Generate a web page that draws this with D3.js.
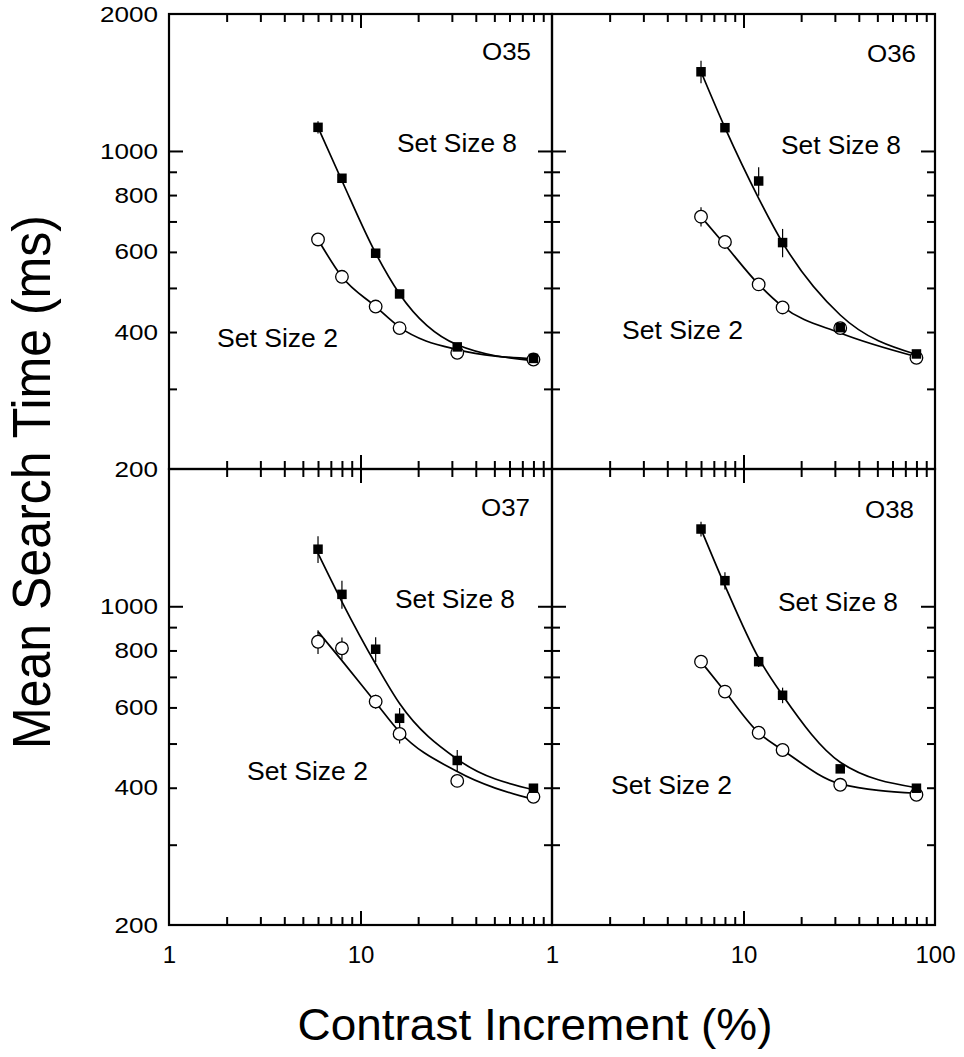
<!DOCTYPE html>
<html>
<head>
<meta charset="utf-8">
<script src="https://cdn.jsdelivr.net/npm/d3@7"></script>
<style>
  body { margin: 0; background: #fff; }
  svg { display: block; font-family: "Liberation Sans", Arial, Helvetica, sans-serif; }
</style>
</head>
<body>
<svg id="chart" width="964" height="1057"></svg>
<script>
// contrast increments (%) used in every panel
const contrast = [6, 8, 12, 16, 32, 80];
const observers = ["O35", "O36", "O37", "O38"];

// mean search time (ms), set size 8 / set size 2
const o35Size8 = [1127, 871, 596, 485, 371, 350];
const o35Size2 = [639, 529, 455, 408, 360, 348];
const o36Size8 = [1493, 1125, 859, 629, 409, 358];
const o36Size2 = [717, 631, 509, 453, 408, 351];
const o37Size8 = [1334, 1062, 805, 568, 459, 399];
const o37Size2 = [836, 809, 618, 525, 414, 382];
const o38Size8 = [1477, 1138, 756, 638, 440, 399];
const o38Size2 = [756, 650, 528, 484, 406, 386];

// half-length of error bars (ms)
const o35Err8 = [35, 15, 12, 8, 6, 5];
const o35Err2 = [20, 10, 8, 6, 5, 4];
const o36Err8 = [85, 20, 62, 45, 10, 6];
const o36Err2 = [35, 15, 15, 8, 8, 5];
const o37Err8 = [90, 75, 50, 30, 25, 6];
const o37Err2 = [50, 45, 22, 25, 6, 5];
const o38Err8 = [55, 50, 20, 25, 6, 6];
const o38Err2 = [10, 8, 8, 6, 5, 5];

// fitted curves at the same contrasts
const o35Fit8 = [1127, 860, 596, 485, 375, 346];
const o35Fit2 = [639, 529, 455, 410, 366, 349];
const o36Fit8 = [1493, 1125, 787, 629, 436, 357];
const o36Fit2 = [717, 622, 509, 455, 398, 353];
const o37Fit8 = [1306, 1023, 747, 612, 462, 396];
const o37Fit2 = [880, 760, 615, 530, 434, 377];
const o38Fit8 = [1477, 1110, 770, 638, 455, 400];
const o38Fit2 = [756, 650, 528, 484, 408, 389];

// ticks
const minorX = [2, 3, 4, 5, 6, 7, 8, 9, 20, 30, 40, 50, 60, 70, 80, 90];
const majorX = [10];
const minorY = [300, 400, 500, 600, 700, 800, 900];
const majorY = [1000];
const yLabelsTop = [200, 400, 600, 800, 1000, 2000];
const yLabelsBottom = [200, 400, 600, 800, 1000];
const xLabelsLeft = [1, 10];
const xLabelsRight = [1, 10, 100];

const size8 = [o35Size8, o36Size8, o37Size8, o38Size8];
const size2 = [o35Size2, o36Size2, o37Size2, o38Size2];
const err8 = [o35Err8, o36Err8, o37Err8, o38Err8];
const err2 = [o35Err2, o36Err2, o37Err2, o38Err2];
const fit8 = [o35Fit8, o36Fit8, o37Fit8, o38Fit8];
const fit2 = [o35Fit2, o36Fit2, o37Fit2, o38Fit2];

// layout
const cols = [169, 552];
const panelW = 383;
const rows = [[14, 469], [469, 925]];

// annotation offsets relative to panel top-left
const titlePos = [[313, 46], [315, 48], [312, 47], [313, 49]];
const label8Pos = [[228, 138], [229, 140], [226, 139], [226, 142]];
const label2Pos = [[48, 333], [70, 325], [78, 311], [59, 325]];

const svg = d3.select("#chart");

const styleAxis = (g, w) => {
  g.select(".domain").remove();
  g.selectAll("line").attr("stroke", "#000").attr("stroke-width", w);
};

observers.forEach((name, i) => {
  const c = i % 2, r = Math.floor(i / 2);
  const x0 = cols[c], x1 = x0 + panelW;
  const [y0, y1] = rows[r];

  const x = d3.scaleLog().domain([1, 100]).range([x0, x1]);
  const y = d3.scaleLog().domain([200, 2000]).range([y1, y0]);

  const g = svg.append("g");

  // inward ticks on all four sides
  const sides = [
    [d3.axisLeft, `translate(${x0},0)`, y, minorY, majorY],
    [d3.axisRight, `translate(${x1},0)`, y, minorY, majorY],
    [d3.axisTop, `translate(0,${y0})`, x, minorX, majorX],
    [d3.axisBottom, `translate(0,${y1})`, x, minorX, majorX]
  ];
  sides.forEach(([axis, tr, s, minor, major]) => {
    g.append("g").attr("transform", tr)
      .call(axis(s).tickValues(minor).tickSize(-8).tickFormat(""))
      .call(a => styleAxis(a, 2));
    g.append("g").attr("transform", tr)
      .call(axis(s).tickValues(major).tickSize(-14).tickFormat(""))
      .call(a => styleAxis(a, 2));
  });

  g.append("rect")
    .attr("x", x0).attr("y", y0)
    .attr("width", x1 - x0).attr("height", y1 - y0)
    .attr("fill", "none").attr("stroke", "#000").attr("stroke-width", 2.2);

  // y tick labels on the left column
  if (c === 0) {
    const yl = g.append("g").attr("transform", `translate(${x0},0)`)
      .call(d3.axisLeft(y).tickValues(r === 0 ? yLabelsTop : yLabelsBottom)
        .tickSize(0).tickPadding(11).tickFormat(d3.format("d")));
    yl.select(".domain").remove();
    yl.selectAll("text")
      .attr("font-size", 22).attr("fill", "#000")
      .attr("font-family", "Liberation Sans, Arial, sans-serif")
      .attr("textLength", d => String(d).length * 14.5)
      .attr("lengthAdjust", "spacingAndGlyphs");
  }

  // x tick labels on the bottom row
  if (r === 1) {
    const xl = g.append("g").attr("transform", `translate(0,${y1})`)
      .call(d3.axisBottom(x).tickValues(c === 0 ? xLabelsLeft : xLabelsRight)
        .tickSize(0).tickPadding(21).tickFormat(d3.format("d")));
    xl.select(".domain").remove();
    xl.selectAll("text")
      .attr("font-size", 24).attr("fill", "#000")
      .attr("font-family", "Liberation Sans, Arial, sans-serif");
  }

  // fitted curves
  const line = d3.line()
    .x((d, k) => x(contrast[k]))
    .y(d => y(d))
    .curve(d3.curveMonotoneX);

  [fit8[i], fit2[i]].forEach(f => {
    g.append("path")
      .attr("d", line(f))
      .attr("fill", "none").attr("stroke", "#000").attr("stroke-width", 1.7);
  });

  // error bars
  [[size8[i], err8[i]], [size2[i], err2[i]]].forEach(([vals, errs]) => {
    g.selectAll(null).data(vals).enter().append("line")
      .attr("x1", (d, k) => x(contrast[k]))
      .attr("x2", (d, k) => x(contrast[k]))
      .attr("y1", (d, k) => y(d + errs[k]))
      .attr("y2", (d, k) => y(d - errs[k]))
      .attr("stroke", "#000").attr("stroke-width", 1.2);
  });

  // set size 2: open circles
  g.selectAll(null).data(size2[i]).enter().append("circle")
    .attr("cx", (d, k) => x(contrast[k]))
    .attr("cy", d => y(d))
    .attr("r", 6.3)
    .attr("fill", "#fff").attr("stroke", "#000").attr("stroke-width", 1.3);

  // set size 8: filled squares
  g.selectAll(null).data(size8[i]).enter().append("rect")
    .attr("x", (d, k) => x(contrast[k]) - 4.75)
    .attr("y", d => y(d) - 4.75)
    .attr("width", 9.5).attr("height", 9.5)
    .attr("fill", "#000");

  // annotations
  g.append("text")
    .attr("x", x0 + titlePos[i][0]).attr("y", y0 + titlePos[i][1])
    .attr("font-size", 23).attr("textLength", 49).attr("lengthAdjust", "spacingAndGlyphs")
    .text(name);
  g.append("text")
    .attr("x", x0 + label8Pos[i][0]).attr("y", y0 + label8Pos[i][1])
    .attr("font-size", 25).attr("textLength", 120).attr("lengthAdjust", "spacingAndGlyphs")
    .text("Set Size 8");
  g.append("text")
    .attr("x", x0 + label2Pos[i][0]).attr("y", y0 + label2Pos[i][1])
    .attr("font-size", 25).attr("textLength", 121).attr("lengthAdjust", "spacingAndGlyphs")
    .text("Set Size 2");
});

// axis titles
svg.append("text")
  .attr("transform", "translate(50,482) rotate(-90)")
  .attr("text-anchor", "middle")
  .attr("font-size", 53)
  .attr("textLength", 534).attr("lengthAdjust", "spacingAndGlyphs")
  .text("Mean Search Time (ms)");

svg.append("text")
  .attr("x", 535).attr("y", 1040)
  .attr("text-anchor", "middle")
  .attr("font-size", 44)
  .attr("textLength", 475).attr("lengthAdjust", "spacingAndGlyphs")
  .text("Contrast Increment (%)");
</script>
</body>
</html>
